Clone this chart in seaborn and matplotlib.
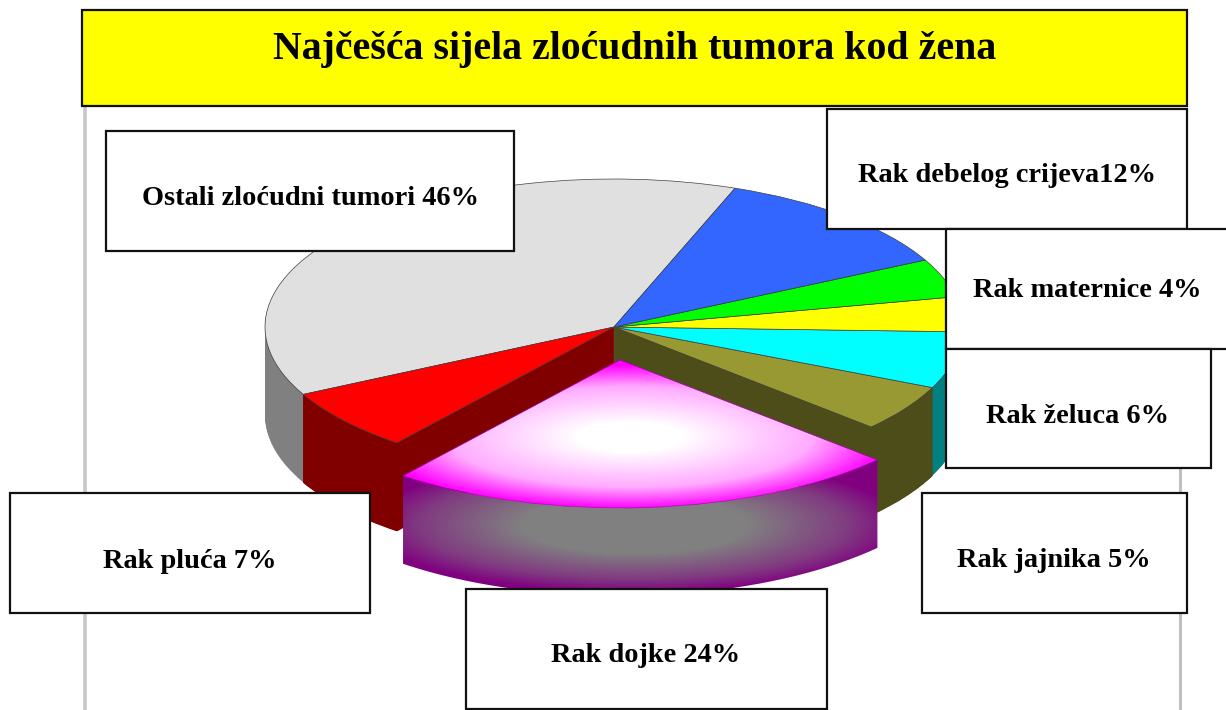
import numpy as np
import matplotlib
matplotlib.use('Agg')
import matplotlib.pyplot as plt
from matplotlib.patches import PathPatch, Rectangle
from matplotlib.path import Path
from matplotlib.colors import LinearSegmentedColormap
import seaborn as sns

# Slice shares as drawn in the picture (counter-clockwise from the grey slice)
slice_names = ['Ostali', 'Pluca', 'Dojka', 'Jajnik', 'Zeludac', 'Uterus', 'Maternica', 'Debelo crijevo']
slice_shares = [38.2, 6.8, 23.9, 5.1, 6.2, 3.8, 4.2, 11.9]
explode_share = [0, 0, 0.223, 0, 0, 0, 0, 0]

top_colors = ['#e0e0e0', '#ff0000', '#ff00ff', '#999933', '#00ffff', '#ffff00', '#00ff00', '#3366ff']
side_colors = ['#808080', '#800000', '#800080', '#4d4d19', '#008080', '#808000', '#008000', '#1a3380']

title_text = 'Najčešća sijela zloćudnih tumora kod žena'
label_texts = ['Ostali zloćudni tumori 46%', 'Rak debelog crijeva12%', 'Rak maternice 4%',
               'Rak želuca 6%', 'Rak jajnika 5%', 'Rak pluća 7%', 'Rak dojke 24%']

# Layout in pixels
W, H = 1226, 710
CX, CY, RX, RY = 614, 327, 349, 148
DEPTH = 88
START_ANGLE = 69.7
DOJKA = slice_names.index('Dojka')
WALLS = [slice_names.index('Pluca'), slice_names.index('Jajnik')]

label_boxes = [(106, 131, 514, 251), (827, 109, 1187, 229), (946, 229, 1240, 349),
               (946, 349, 1211, 468), (922, 493, 1187, 613), (10, 493, 370, 613),
               (466, 589, 827, 709)]
label_anchors = [(310, 205), (1007, 182), (1087, 297), (1078, 423), (1054, 567), (190, 568), (646, 662)]

sns.set_theme(style='white')
plt.rcParams['font.family'] = ['Liberation Serif', 'DejaVu Serif']

fig = plt.figure(figsize=(W / 100, H / 100), dpi=100, facecolor='white')

# Pie axes: one unit is the radius, squashed into an ellipse
ax = fig.add_axes([0, 0, 1, 1])
side_palette = sns.color_palette(side_colors)
top_palette = sns.color_palette(top_colors)

# Body of the pie: stack of dark pies going up
for k in range(DEPTH, 0, -1):
    wedges, _ = ax.pie(slice_shares, colors=side_palette, startangle=START_ANGLE,
                       center=(0, -k / RY), wedgeprops={'linewidth': 0})
    wedges[DOJKA].set_visible(False)

# Inner walls left open by the pulled out slice
for k in range(DEPTH, 0, -1):
    wedges, _ = ax.pie(slice_shares, colors=side_palette, startangle=START_ANGLE,
                       center=(0, -k / RY), wedgeprops={'linewidth': 0.6})
    for i, w in enumerate(wedges):
        if i in WALLS:
            w.set_edgecolor(side_palette[i])
        else:
            w.set_visible(False)

# Top face
wedges, _ = ax.pie(slice_shares, colors=top_palette, startangle=START_ANGLE, explode=explode_share,
                   wedgeprops={'linewidth': 0.5, 'edgecolor': '#404040'})
dojka = wedges[DOJKA]
dojka.set_zorder(3)
dojka.set_facecolor('none')
dojka.set_edgecolor('#a000a0')

# Exploded slice: side wall with gradient
t = np.radians(np.linspace(dojka.theta1, dojka.theta2, 120))
dx, dy = dojka.center
arc_x = dx + np.cos(t)
arc_y = dy + np.sin(t)
wall = np.vstack([np.column_stack([arc_x, arc_y]),
                  np.column_stack([arc_x[::-1], arc_y[::-1] - DEPTH / RY]),
                  [[arc_x[0], arc_y[0]]]])
wall_patch = PathPatch(Path(wall), facecolor='none', edgecolor='none', transform=ax.transData, zorder=3)
ax.add_patch(wall_patch)

def radial_image(cx_px, cy_px, a_px, b_px):
    xs = np.linspace(-CX / RX, (W - CX) / RX, W)
    ys = np.linspace(CY / RY, (CY - H) / RY, H)
    gx, gy = np.meshgrid(xs, ys)
    return np.sqrt(((gx - (cx_px - CX) / RX) * RX / a_px) ** 2 + ((gy - (CY - cy_px) / RY) * RY / b_px) ** 2)

extent = (-CX / RX, (W - CX) / RX, (CY - H) / RY, CY / RY)
wall_cmap = LinearSegmentedColormap.from_list('wall', [(0, '#808080'), (0.42, '#808080'), (0.8, '#803a80'), (1, '#800080')])
top_cmap = LinearSegmentedColormap.from_list('top', [(0, '#ffffff'), (0.2, '#ffffff'), (0.7, '#ffaaff'), (1, '#ff00ff')])

im = ax.imshow(radial_image(635, 525, 270, 68), cmap=wall_cmap, vmin=0, vmax=1, extent=extent,
               aspect='auto', zorder=2.5)
im.set_clip_path(wall_patch)
im2 = ax.imshow(radial_image(630, 437, 262, 72), cmap=top_cmap, vmin=0, vmax=1, extent=extent,
                aspect='auto', zorder=2.6)
im2.set_clip_path(dojka)

ax.set_aspect('auto')
ax.set_xlim(extent[0], extent[1])
ax.set_ylim(extent[2], extent[3])
ax.set_axis_off()

# Overlay in pixel coordinates for the frame and the text boxes
over = fig.add_axes([0, 0, 1, 1], facecolor='none')
over.set_xlim(0, W)
over.set_ylim(H, 0)
over.set_axis_off()

over.plot([85, 85], [106, H], color='#c8c8c8', lw=2.6, zorder=1)
over.plot([1180, 1180], [468, H], color='#c0c0c0', lw=2.2, zorder=1)

over.add_patch(Rectangle((82, 10), 1105, 96, facecolor='#ffff00', edgecolor='#111111', lw=1.6, zorder=2))
over.text(634.5, 59, title_text, ha='center', va='baseline', fontsize=28.7, fontweight='bold',
          color='black', zorder=3)

for (x0, y0, x1, y1) in label_boxes:
    over.add_patch(Rectangle((x0, y0), x1 - x0, y1 - y0, facecolor='white', edgecolor='#111111', lw=1.6, zorder=2))

for (x, y), label in zip(label_anchors, label_texts):
    over.text(x, y, label, ha='center', va='baseline', fontsize=20.4, fontweight='bold', color='black', zorder=3)

fig.savefig('out.png', dpi=100)
